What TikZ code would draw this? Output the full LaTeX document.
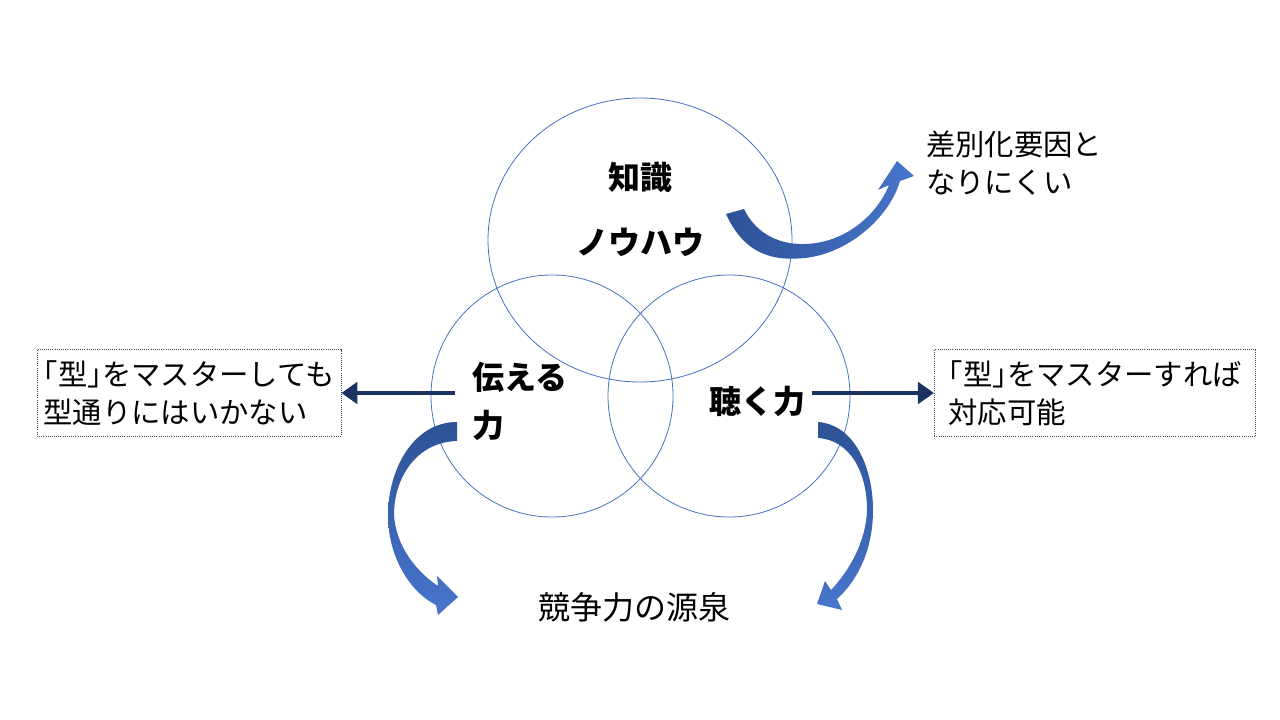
\documentclass[tikz,border=0pt]{standalone}
\usepackage{fontspec}
\setmainfont{Noto Sans CJK JP}
\usepackage{tikz}
\usetikzlibrary{arrows.meta,positioning,calc}
\definecolor{ringblue}{RGB}{68,114,196}
\definecolor{navyarrow}{RGB}{28,50,96}
\definecolor{swooshlight}{RGB}{72,118,204}
\definecolor{swooshdark}{RGB}{45,82,150}
\definecolor{boxline}{RGB}{60,70,90}

\begin{document}
\begin{tikzpicture}[x=0.75pt, y=-0.75pt,
    ring/.style={draw=ringblue, line width=0.6pt},
    skill/.style={font=\fontsize{24}{36}\selectfont\bfseries, align=left, inner sep=0pt},
    note/.style={font=\fontsize{22}{28}\selectfont, align=left, inner sep=0pt},
    notebox/.style={draw=boxline, densely dotted, line width=0.6pt, font=\fontsize{22}{28.5}\selectfont, align=left, minimum height=65pt, inner sep=2pt},
    pointer/.style={draw=navyarrow, line width=3.2pt, -{Triangle[length=12pt,width=16pt]}},
    swoosh/.style={draw=none}]
    \useasboundingbox (0,0) rectangle (1280,720);

    % Three overlapping circles
    \draw[ring] (640,240) ellipse [x radius=152, y radius=142];
    \draw[ring] (552,396) circle [radius=121];
    \draw[ring] (729,396) circle [radius=121];

    % Labels inside the circles
    \node[skill] (chishiki) at (640,177) {知識};
    \node[skill] (nouhau) at (640,242) {ノウハウ};
    \node[skill] (tsutaeru) at (520,401) {伝える\\力};
    \node[skill] (kiku) at (757,401) {聴く力};

    % Outside texts
    \node[note, font=\fontsize{24}{30}\selectfont] (gensen) at (634,607) {競争力の源泉};
    \node[note, anchor=west] (sabetsu) at (926,163) {差別化要因と\\なりにくい};
    \node[notebox, minimum width=228pt] (leftbox) at (189,393)
        {\hspace*{-0.5em}「型」\hspace{-0.5em}をマスターしても\\型通りにはいかない};
    \node[notebox, minimum width=241pt] (rightbox) at (1095,393)
        {\hspace*{-0.5em}「型」\hspace{-0.5em}をマスターすれば\\対応可能};

    % Straight pointers to the boxes
    \coordinate (tsutaeruout) at (455,393);
    \coordinate (kikuout) at (812,393);
    \draw[pointer] (tsutaeruout) -- (leftbox.east);
    \draw[pointer] (kikuout) -- (rightbox.west);

    % Curved arrow: knowhow -> upper right
    \shade[swoosh, left color=swooshdark, right color=swooshlight]
        (726,214) .. controls (745,256) and (775,261) .. (805,258)
        .. controls (850,253) and (890,216) .. (900,181)
        -- (914,176) -- (897,161) -- (878,190) -- (889,185)
        .. controls (877,215) and (845,243) .. (805,244)
        .. controls (775,245) and (754,230) .. (744,209) -- cycle;

    % Curved arrow: left circle -> source of competitiveness
    \shade[swoosh, top color=swooshdark, bottom color=swooshlight]
        (457,422) .. controls (413,422) and (388,470) .. (388,515)
        .. controls (388,557) and (410,592) .. (436,605)
        -- (438,615) -- (458,597) -- (437,576) -- (438,586)
        .. controls (417,572) and (396,547) .. (394,515)
        .. controls (394,477) and (417,442) .. (457,441) -- cycle;

    % Curved arrow: right circle -> source of competitiveness
    \shade[swoosh, top color=swooshdark, bottom color=swooshlight]
        (818,422) .. controls (856,425) and (873,470) .. (873,510)
        .. controls (873,552) and (856,582) .. (837,599)
        -- (842,610) -- (817,604) -- (825,581) -- (831,590)
        .. controls (849,571) and (866,542) .. (867,510)
        .. controls (867,472) and (850,440) .. (818,438) -- cycle;
\end{tikzpicture}
\end{document}
